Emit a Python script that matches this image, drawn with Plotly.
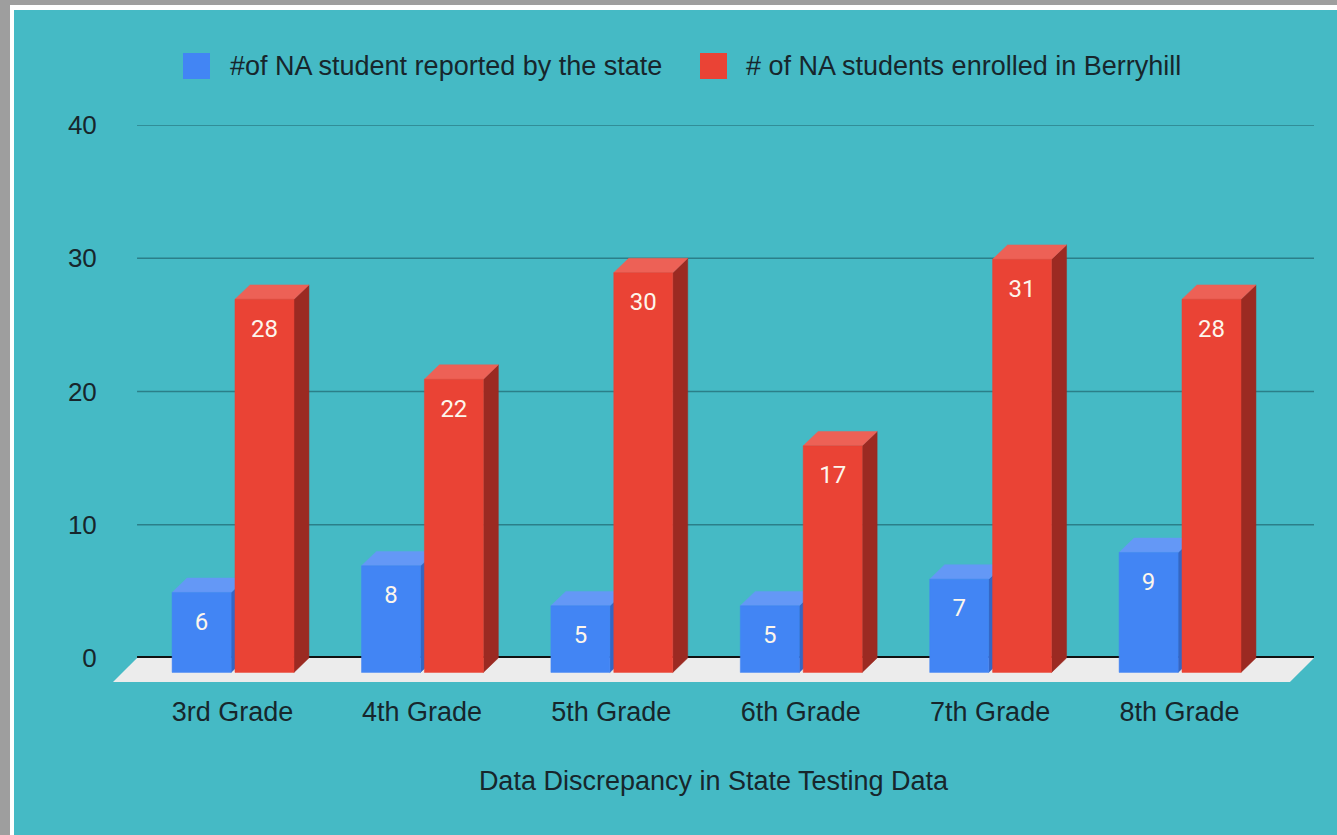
import plotly.graph_objects as go

# ---- data ----
categories = ["3rd Grade", "4th Grade", "5th Grade", "6th Grade", "7th Grade", "8th Grade"]
state_reported = [6, 8, 5, 5, 7, 9]
enrolled_berryhill = [28, 22, 30, 17, 31, 28]
series_names = ["#of NA student reported by the state", "# of NA students enrolled in Berryhill"]
y_ticks = [0, 10, 20, 30, 40]

# ---- styling / geometry (pseudo-3D) ----
W, H = 1337, 835
ML, MR, MT, MB = 113, 23, 125, 153
X_RANGE = [-0.631, 5.710]
Y_RANGE = [-1.8, 40]
BAR_W = 0.3115
OFFS = [-0.319, 0.013]          # left edge of front face relative to category
DX, DY = 0.079, 1.08            # depth offset (data units)
WALL_L, WALL_R = -0.504, 5.710
FLOOR_FL, FLOOR_FR = -0.631, 5.583

TEAL = "#45bac5"
TEXT = "#17262c"
COLS = [
    {"front": "#4285f4", "top": "#6498f6", "side": "#3566c4"},
    {"front": "#ea4335", "top": "#ed6156", "side": "#9b2a22"},
]

fig = go.Figure()

# floor
fig.add_trace(go.Scatter(
    x=[FLOOR_FL, FLOOR_FR, WALL_R, WALL_L, FLOOR_FL],
    y=[Y_RANGE[0], Y_RANGE[0], 0, 0, Y_RANGE[0]],
    fill="toself", fillcolor="#ececec", mode="none",
    hoverinfo="skip", showlegend=False))
# zero line
fig.add_trace(go.Scatter(
    x=[WALL_L, WALL_R], y=[0.08, 0.08], mode="lines",
    line=dict(color="#111111", width=2), hoverinfo="skip", showlegend=False))


def poly_trace(pts, color):
    xs, ys = [], []
    for p in pts:
        for (a, b) in p:
            xs.append(a)
            ys.append(b)
        xs.append(p[0][0]); ys.append(p[0][1])
        xs.append(None); ys.append(None)
    return go.Scatter(x=xs, y=ys, fill="toself", fillcolor=color, mode="lines",
                      line=dict(color=color, width=0.5), hoverinfo="skip",
                      showlegend=False)


for s, vals in enumerate([state_reported, enrolled_berryhill]):
    fronts, tops, sides = [], [], []
    lx, ly, lt = [], [], []
    for i, v in enumerate(vals):
        x0 = i + OFFS[s]
        x1 = x0 + BAR_W
        yb = -DY
        yt = v - DY
        fronts.append([(x0, yb), (x1, yb), (x1, yt), (x0, yt)])
        tops.append([(x0, yt), (x1, yt), (x1 + DX, v), (x0 + DX, v)])
        sides.append([(x1, yb), (x1 + DX, 0), (x1 + DX, v), (x1, yt)])
        lx.append((x0 + x1) / 2)
        ly.append(yt - 2.35)
        lt.append(str(v))
    fig.add_trace(poly_trace(sides, COLS[s]["side"]))
    fig.add_trace(poly_trace(tops, COLS[s]["top"]))
    fig.add_trace(poly_trace(fronts, COLS[s]["front"]))
    fig.add_trace(go.Scatter(
        x=lx, y=ly, text=lt, mode="text", textposition="middle center",
        textfont=dict(family="Roboto, Arial", size=24, color="#fdf6ec"),
        hoverinfo="skip", showlegend=False, name=series_names[s]))

pw, ph = W - ML - MR, H - MT - MB


def px_x(p):
    return (p - ML) / pw


def px_y(p):
    return (H - MB - p) / ph


shapes = [
    # frame: white edge and teal panel over gray background
    dict(type="rect", xref="paper", yref="paper", layer="below",
         x0=px_x(10), x1=px_x(W + 20), y0=px_y(5), y1=px_y(H + 20),
         fillcolor="#ffffff", line=dict(width=0)),
    dict(type="rect", xref="paper", yref="paper", layer="below",
         x0=px_x(14), x1=px_x(W + 20), y0=px_y(10), y1=px_y(H + 20),
         fillcolor=TEAL, line=dict(width=0)),
]
for t in y_ticks[1:]:
    shapes.append(dict(type="line", xref="x", yref="y", layer="below",
                       x0=WALL_L, x1=WALL_R, y0=t, y1=t,
                       line=dict(color="#2b7f89", width=1.5)))

# manual legend
leg = [(183, 228), (700, 744)]
annotations = []
for s, (sq, tx) in enumerate(leg):
    shapes.append(dict(type="rect", xref="paper", yref="paper",
                       x0=px_x(sq), x1=px_x(sq + 27), y0=px_y(79), y1=px_y(53),
                       fillcolor=COLS[s]["front"], line=dict(width=0)))
    annotations.append(dict(xref="paper", yref="paper", x=px_x(tx), y=px_y(66),
                            text=series_names[s], showarrow=False,
                            xanchor="left", yanchor="middle",
                            font=dict(family="Arial, Liberation Sans", size=27, color=TEXT)))

fig.update_layout(
    width=W, height=H,
    margin=dict(l=ML, r=MR, t=MT, b=MB),
    paper_bgcolor="#9e9e9e",
    plot_bgcolor="rgba(0,0,0,0)",
    showlegend=False,
    shapes=shapes,
    annotations=annotations,
    font=dict(family="Arial, Liberation Sans", size=26, color=TEXT),
    xaxis=dict(range=X_RANGE, tickmode="array", tickvals=list(range(len(categories))),
               ticktext=categories, showgrid=False, zeroline=False, showline=False,
               ticks="outside", ticklen=6, tickcolor="rgba(0,0,0,0)",
               tickfont=dict(size=27),
               title=dict(text="Data Discrepancy in State Testing Data",
                          font=dict(size=27), standoff=44),
               fixedrange=True),
    yaxis=dict(range=Y_RANGE, tickmode="array", tickvals=y_ticks,
               showgrid=False, zeroline=False, showline=False,
               ticks="outside", ticklen=10, tickcolor="rgba(0,0,0,0)",
               tickfont=dict(size=26), fixedrange=True),
)

fig.write_html("out.html", config={"displayModeBar": False},
               post_script="document.body.style.margin='0';document.body.style.padding='0';")
